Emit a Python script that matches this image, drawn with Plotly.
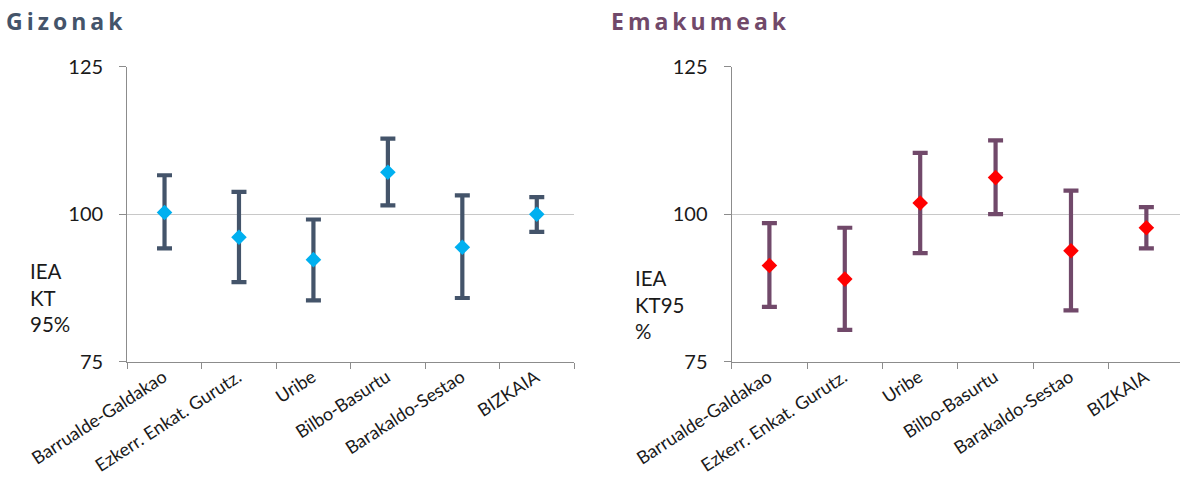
import plotly.graph_objects as go

categories = ["Barrualde-Galdakao", "Ezkerr. Enkat. Gurutz.", "Uribe",
              "Bilbo-Basurtu", "Barakaldo-Sestao", "BIZKAIA"]

men_value = [100.3, 96.1, 92.3, 107.1, 94.4, 100.0]
men_low = [94.2, 88.5, 85.4, 101.5, 85.8, 97.0]
men_high = [106.6, 103.8, 99.1, 112.8, 103.2, 102.9]

women_value = [91.3, 89.0, 101.9, 106.2, 93.8, 97.7]
women_low = [84.3, 80.4, 93.4, 100.0, 83.7, 94.2]
women_high = [98.5, 97.7, 110.4, 112.5, 104.0, 101.2]

y_ticks = [75, 100, 125]

W, H = 1180, 479
MEN_BAR = "#44546A"
MEN_MARK = "#00B0F0"
WOM_BAR = "#71496A"
WOM_MARK = "#FF0000"
FONT = "Lato"


def px_x(p):
    return p / W


def px_y(p):
    return 1 - p / H


fig = go.Figure()

fig.add_trace(go.Scatter(
    x=categories, y=men_value, mode="markers", xaxis="x", yaxis="y",
    marker=dict(symbol="diamond", size=12, color=MEN_MARK),
    error_y=dict(type="data", symmetric=False,
                 array=[h - v for h, v in zip(men_high, men_value)],
                 arrayminus=[v - l for v, l in zip(men_value, men_low)],
                 color=MEN_BAR, thickness=4.2, width=7.5),
    showlegend=False, cliponaxis=False))

fig.add_trace(go.Scatter(
    x=categories, y=women_value, mode="markers", xaxis="x2", yaxis="y2",
    marker=dict(symbol="diamond", size=12, color=WOM_MARK),
    error_y=dict(type="data", symmetric=False,
                 array=[h - v for h, v in zip(women_high, women_value)],
                 arrayminus=[v - l for v, l in zip(women_value, women_low)],
                 color=WOM_BAR, thickness=4.2, width=7.5),
    showlegend=False, cliponaxis=False))

yd = [px_y(361.7), px_y(66.7)]

xcommon = dict(type="category", categoryorder="array", categoryarray=categories,
               automargin=False,
               showline=True, linecolor="#8C8C8C", linewidth=1.3,
               ticks="outside", tickson="boundaries", ticklen=6, tickcolor="#8C8C8C",
               tickwidth=1.3, tickangle=-33, showgrid=False, zeroline=False,
               ticklabelshift=-1, ticklabelstandoff=-3,
               tickfont=dict(family=FONT, size=18, color="#1A1A1A"))
ycommon = dict(range=[75, 125], tickvals=y_ticks, showline=True, linecolor="#8C8C8C",
               automargin=False,
               linewidth=1.3, ticks="outside", ticklen=7, tickcolor="#8C8C8C", tickwidth=1.3,
               showgrid=True, gridcolor="#C8C8C8", gridwidth=1.3, zeroline=False,
               ticklabelstandoff=12,
               tickfont=dict(family=FONT, size=20, color="#1A1A1A"))

fig.update_layout(
    width=W, height=H,
    margin=dict(l=0, r=0, t=0, b=0, autoexpand=False),
    paper_bgcolor="white", plot_bgcolor="white",
    xaxis=dict(domain=[px_x(127.3), px_x(574)], range=[-0.5, 5.5], anchor="y", **xcommon),
    yaxis=dict(domain=yd, anchor="x", **ycommon),
    xaxis2=dict(domain=[px_x(731.7), 1.0], range=[-0.5, 5.446], anchor="y2", **xcommon),
    yaxis2=dict(domain=yd, anchor="x2", **ycommon),
    annotations=[
        dict(text="Gizonak", x=px_x(66), y=px_y(21), xref="paper", yref="paper",
             xanchor="center", yanchor="middle", showarrow=False,
             font=dict(family="Open Sans", size=23, color=MEN_BAR, weight="bold")),
        dict(text="Emakumeak", x=px_x(701), y=px_y(21), xref="paper", yref="paper",
             xanchor="center", yanchor="middle", showarrow=False,
             font=dict(family="Open Sans", size=23, color=WOM_BAR, weight="bold")),
        dict(text="IEA<br>KT<br>95%", x=px_x(28), y=px_y(297), xref="paper", yref="paper",
             xanchor="left", yanchor="middle", align="left", showarrow=False,
             font=dict(family=FONT, size=20.5, color="#1A1A1A")),
        dict(text="IEA<br>KT95<br>%", x=px_x(633), y=px_y(304), xref="paper", yref="paper",
             xanchor="left", yanchor="middle", align="left", showarrow=False,
             font=dict(family=FONT, size=20.5, color="#1A1A1A")),
    ],
)

post = """
document.body.style.margin = '0';
document.body.style.overflow = 'hidden';
document.querySelectorAll('text.annotation-text').forEach(function(t){
  if (t.textContent === 'Gizonak' || t.textContent === 'Emakumeak') {
    t.style.letterSpacing = '4px';
  }
});
"""

fig.write_html("out.html", post_script=post, config={"displayModeBar": False})
